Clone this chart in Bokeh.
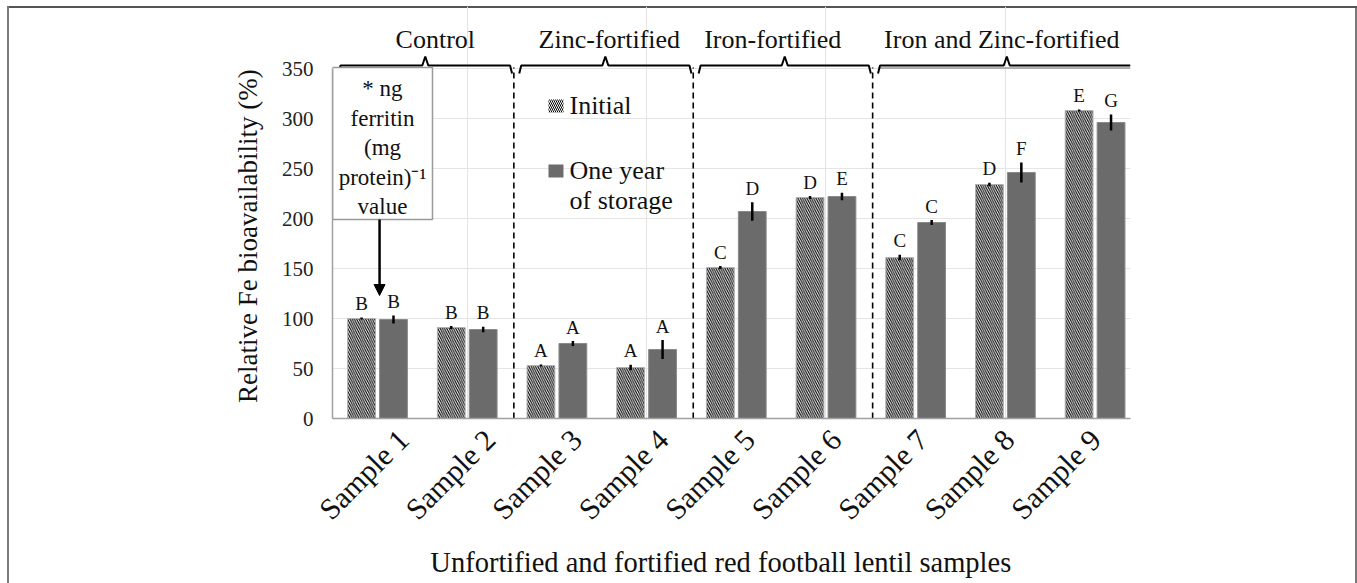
import numpy as np
from math import pi
from bokeh.plotting import figure
from bokeh.models import Range1d, LinearAxis, FixedTicker, Arrow, NormalHead
from bokeh.core.properties import value
from bokeh.embed import file_html
from bokeh.resources import INLINE

# ---------------- data ----------------
samples = ["Sample 1", "Sample 2", "Sample 3", "Sample 4", "Sample 5",
           "Sample 6", "Sample 7", "Sample 8", "Sample 9"]
initial = [100, 91, 53, 51, 151, 221, 161, 234, 308]
initial_err = [1, 1.5, 1, 2.7, 1.5, 1.5, 2.7, 1.7, 1]
one_year = [99, 89, 75, 69, 207, 222, 196, 246, 296]
one_year_err = [4, 2.7, 2.5, 9.5, 9.3, 3.7, 2.5, 10, 8]
initial_letters = ["B", "B", "A", "A", "C", "D", "C", "D", "E"]
one_year_letters = ["B", "B", "A", "A", "D", "E", "C", "F", "G"]
groups = ["Control", "Zinc-fortified", "Iron-fortified", "Iron and Zinc-fortified"]
group_first = [1, 3, 5, 7]
group_last = [2, 4, 6, 9]
y_ticks = [0, 50, 100, 150, 200, 250, 300, 350]
series_names = ["Initial", "One year", "of storage"]
note_lines = ["* ng", "ferritin", "(mg", "protein)\u207b\u00b9", "value"]
y_title = "Relative Fe bioavailability (%)"
x_title = "Unfortified and fortified red football lentil samples"

FONT = value("Liberation Serif")
GRAY = "#6b6b6b"
label_dx_px = [6, 0, -16, -9]   # small horizontal nudges of the group titles

pos = np.arange(1, len(samples) + 1)
off = 0.178
bw = 0.31
X0, X1 = 0.498, 9.395
px = 1 / 89.7  # one pixel in category units

p = figure(width=1350, height=577, x_range=Range1d(X0, X1), y_range=Range1d(0, 412),
           output_backend="svg", toolbar_location=None,
           x_axis_location=None, y_axis_location=None,
           min_border_left=325, min_border_right=227, min_border_top=0,
           min_border_bottom=165)
p.outline_line_color = None
p.background_fill_color = None
p.border_fill_color = None
# outer frame lines of the original figure (left, top, right)
p.styles = {"margin-left": "7px", "margin-top": "6px", "background-color": "white",
            "box-shadow": "inset 2px 0 0 0 #7a7a7a, inset 0 2px 0 0 #555555, inset -2px 0 0 0 #7a7a7a"}

# y axis (title padded so that it is centred on the 0-350 span like the original)
yaxis = LinearAxis(ticker=FixedTicker(ticks=y_ticks), bounds=(0, 350),
                   axis_label=y_title + "\u00a0" * 7)
yaxis.axis_line_color = "#a0a0a0"
yaxis.axis_line_width = 1.5
yaxis.major_tick_line_color = None
yaxis.minor_tick_line_color = None
yaxis.major_label_text_font = "Liberation Serif"
yaxis.major_label_text_font_size = "21px"
yaxis.major_label_text_color = "#222222"
yaxis.major_label_standoff = 13
yaxis.axis_label_text_font = "Liberation Serif"
yaxis.axis_label_text_font_size = "27px"
yaxis.axis_label_text_font_style = "normal"
yaxis.axis_label_text_color = "#111111"
yaxis.axis_label_standoff = 16
p.add_layout(yaxis, "left")

# x axis: rotated labels sit on their own (slightly tighter) scale, as in the original
p.extra_x_ranges = {"lab": Range1d(0.179, 9.404)}
xaxis = LinearAxis(x_range_name="lab", ticker=FixedTicker(ticks=list(pos)),
                   major_label_overrides={int(i): s for i, s in zip(pos, samples)},
                   axis_label=x_title + "\u00a0" * 3)
xaxis.major_label_orientation = pi / 4
xaxis.axis_line_color = "#a0a0a0"
xaxis.axis_line_width = 1.5
xaxis.major_tick_line_color = None
xaxis.minor_tick_line_color = None
xaxis.major_label_text_font = "Liberation Serif"
xaxis.major_label_text_font_size = "30px"
xaxis.major_label_text_color = "#111111"
xaxis.major_label_standoff = 10
xaxis.axis_label_text_font = "Liberation Serif"
xaxis.axis_label_text_font_size = "28.5px"
xaxis.axis_label_text_font_style = "normal"
xaxis.axis_label_text_color = "#111111"
xaxis.axis_label_standoff = 7
p.add_layout(xaxis, "below")

# bars
xi = pos - off
xo = pos + off
p.vbar(x=xi, top=initial, width=bw, fill_color="white", line_color="#b0b0b0", line_width=1,
       hatch_pattern="\\", hatch_color="black", hatch_weight=1.1, hatch_scale=4.5)
p.vbar(x=xo, top=one_year, width=bw, fill_color=GRAY, line_color="#8a8a8a", line_width=1)

# error bars
ia, ie = np.array(initial), np.array(initial_err)
oa, oe = np.array(one_year), np.array(one_year_err)
p.segment(x0=xi, y0=ia - ie, x1=xi, y1=ia + ie, line_color="black", line_width=2.5)
p.segment(x0=xo, y0=oa - oe, x1=xo, y1=oa + oe, line_color="black", line_width=2.5)

# significance letters
p.text(x=xi, y=ia + ie + 14, text=initial_letters, text_font=FONT, text_font_size="19px",
       text_align="center", text_baseline="middle", text_color="#111111")
p.text(x=xo, y=oa + oe + 14, text=one_year_letters, text_font=FONT, text_font_size="19px",
       text_align="center", text_baseline="middle", text_color="#111111")

# dashed group separators and braces
brace_y = 353
for k, (g, a, b) in enumerate(zip(groups, group_first, group_last)):
    left = a - 0.45 + (0.03 if k > 0 else 0.015)
    right = b + 0.5 if k < len(groups) - 1 else X1
    mid = (left + right) / 2 if k < len(groups) - 1 else left + (right - left) * 0.51
    if k < len(groups) - 1:
        p.segment(x0=[b + 0.52], y0=[0], x1=[b + 0.52], y1=[brace_y - 2], line_color="black",
                  line_width=1.6, line_dash="6 4")
    xs = [left, left + 2 * px, mid - 3 * px, mid, mid + 3 * px]
    ys = [brace_y - 8, brace_y, brace_y, brace_y + 9, brace_y]
    if k < len(groups) - 1:
        xs += [right - 2 * px, right]
        ys += [brace_y, brace_y - 8]
    else:
        xs += [right]
        ys += [brace_y]
        p.line(x=[left, right], y=[brace_y - 2.5, brace_y - 2.5], line_color="#9a9a9a", line_width=1.5)
    p.line(x=xs, y=ys, line_color="black", line_width=2)
    p.text(x=[mid + (4 + label_dx_px[k]) * px], y=[379], text=[g], text_font=FONT,
           text_font_size="26px", text_align="center", text_baseline="middle",
           text_color="#111111")

# note box with arrow
p.quad(left=X0, right=X0 + 100 * px, top=351, bottom=199, fill_color="white",
       line_color="#9a9a9a", line_width=1.5)
note_y = [330 - 29.5 * j for j in range(len(note_lines))]
p.text(x=[X0 + 50 * px] * len(note_lines), y=note_y, text=note_lines, text_font=FONT,
       text_font_size="23px", text_align="center", text_baseline="middle", text_color="#111111")
p.add_layout(Arrow(end=NormalHead(size=11, fill_color="black", line_color="black"),
                   x_start=xi[0] + 18 * px, y_start=199, x_end=xi[0] + 18 * px,
                   y_end=initial[0] + 23, line_width=2.5, line_color="black"))

# legend
lx = 2.906
p.quad(left=[lx], right=[lx + 15 * px], top=[319], bottom=[306], fill_color="white",
       line_color=None, hatch_pattern="\\", hatch_color="black", hatch_weight=1.0, hatch_scale=4)
p.quad(left=[lx], right=[lx + 15 * px], top=[254], bottom=[241], fill_color=GRAY, line_color=None)
p.text(x=[lx + 21 * px] * 3, y=[313, 248, 218], text=series_names, text_font=FONT,
       text_font_size="26px", text_align="left", text_baseline="middle", text_color="#111111")

open("out.html", "w").write(file_html(p, INLINE))
